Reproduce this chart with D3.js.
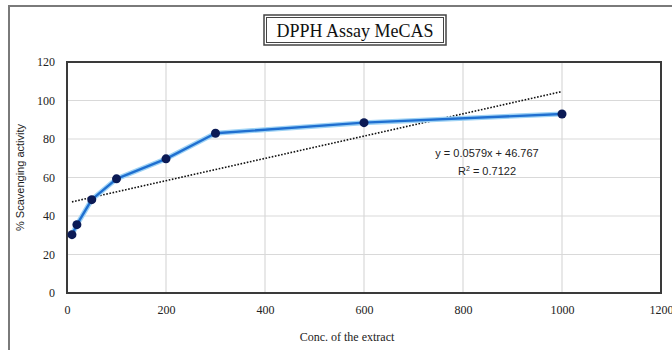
<!DOCTYPE html>
<html>
<head>
<meta charset="utf-8">
<script src="https://cdn.jsdelivr.net/npm/d3@7"></script>
<style>
  body { margin: 0; background: #fff; }
  svg { display: block; }
</style>
</head>
<body>
<div class="container"></div>
<script>
const width = 672;
const height = 350;

// data
const conc = [10, 20, 50, 100, 200, 300, 600, 1000];
const scavenging = [30.3, 35.5, 48.5, 59.3, 69.7, 83, 88.5, 93];
const xTicks = [0, 200, 400, 600, 800, 1000, 1200];
const yTicks = [0, 20, 40, 60, 80, 100, 120];
const slope = 0.0579;
const intercept = 46.767;
const rSquared = '0.7122';

const margin = { top: 62, right: 11, bottom: 57, left: 67 };

const x = d3.scaleLinear().domain([0, 1200]).range([margin.left, width - margin.right]);
const y = d3.scaleLinear().domain([0, 120]).range([height - margin.bottom, margin.top]);

const svg = d3.select('.container')
  .append('svg')
  .attr('width', width)
  .attr('height', height);

// outer chart frame (cut off at right / bottom)
svg.append('rect')
  .attr('x', 9)
  .attr('y', 6)
  .attr('width', width + 20)
  .attr('height', height + 20)
  .attr('fill', 'none')
  .attr('stroke', '#7a7a7a')
  .attr('stroke-width', 2);

// gridlines
svg.append('g')
  .selectAll('line.h')
  .data(yTicks)
  .enter()
  .append('line')
  .attr('x1', x(0))
  .attr('x2', x(1200))
  .attr('y1', d => y(d))
  .attr('y2', d => y(d))
  .attr('stroke', '#d9d9d9')
  .attr('stroke-width', 1.2);

svg.append('g')
  .selectAll('line.v')
  .data(xTicks)
  .enter()
  .append('line')
  .attr('x1', d => x(d))
  .attr('x2', d => x(d))
  .attr('y1', y(0))
  .attr('y2', y(120))
  .attr('stroke', '#d9d9d9')
  .attr('stroke-width', 1.2);

// plot border
svg.append('rect')
  .attr('x', x(0))
  .attr('y', y(120))
  .attr('width', x(1200) - x(0))
  .attr('height', y(0) - y(120))
  .attr('fill', 'none')
  .attr('stroke', '#3a3a3a')
  .attr('stroke-width', 2);

// axes (labels only)
const xAxis = svg.append('g')
  .attr('transform', `translate(0, ${y(0) + 8})`)
  .call(d3.axisBottom(x).tickValues(xTicks).tickFormat(d3.format('d')).tickSize(0).tickPadding(4));
xAxis.select('.domain').remove();
xAxis.selectAll('text')
  .attr('font-family', '"Liberation Serif", "Times New Roman", serif')
  .attr('font-size', 12)
  .attr('fill', '#222');

const yAxis = svg.append('g')
  .attr('transform', `translate(${x(0) - 10}, 0)`)
  .call(d3.axisLeft(y).tickValues(yTicks).tickFormat(d3.format('d')).tickSize(0).tickPadding(2));
yAxis.select('.domain').remove();
yAxis.selectAll('text')
  .attr('font-family', '"Liberation Serif", "Times New Roman", serif')
  .attr('font-size', 12)
  .attr('fill', '#222');

// trendline
const trend = d3.extent(conc).map(c => [c, slope * c + intercept]);
svg.append('path')
  .datum(trend)
  .attr('d', d3.line().x(d => x(d[0])).y(d => y(d[1])))
  .attr('fill', 'none')
  .attr('stroke', '#111')
  .attr('stroke-width', 1.6)
  .attr('stroke-dasharray', '1.6,1.6');

// data line
const pts = conc.map((c, i) => [c, scavenging[i]]);
const line = d3.line().x(d => x(d[0])).y(d => y(d[1]));

svg.append('path')
  .datum(pts)
  .attr('d', line)
  .attr('fill', 'none')
  .attr('stroke', '#9fd3f5')
  .attr('stroke-width', 5)
  .attr('stroke-linejoin', 'round');

svg.append('path')
  .datum(pts)
  .attr('d', line)
  .attr('fill', 'none')
  .attr('stroke', '#1f6fd0')
  .attr('stroke-width', 2.4)
  .attr('stroke-linejoin', 'round');

svg.append('g')
  .selectAll('circle')
  .data(pts)
  .enter()
  .append('circle')
  .attr('cx', d => x(d[0]))
  .attr('cy', d => y(d[1]))
  .attr('r', 4.5)
  .attr('fill', '#0b1a55');

// equation label
const eq = svg.append('text')
  .attr('font-family', '"Liberation Sans", Arial, sans-serif')
  .attr('font-size', 11)
  .attr('fill', '#222')
  .attr('text-anchor', 'middle');
eq.append('tspan')
  .attr('x', 487)
  .attr('y', 157)
  .text(`y = ${slope}x + ${intercept}`);
const r2 = eq.append('tspan')
  .attr('x', 487)
  .attr('y', 175);
r2.append('tspan').text('R');
r2.append('tspan').attr('dy', -4).attr('font-size', 7).text('2');
r2.append('tspan').attr('dy', 4).text(` = ${rSquared}`);

// title box
const title = svg.append('g');
title.append('rect')
  .attr('x', 264)
  .attr('y', 15)
  .attr('width', 182)
  .attr('height', 30)
  .attr('fill', '#fff')
  .attr('stroke', '#444')
  .attr('stroke-width', 1.5);
title.append('rect')
  .attr('x', 266.5)
  .attr('y', 17.5)
  .attr('width', 177)
  .attr('height', 25)
  .attr('fill', 'none')
  .attr('stroke', '#444')
  .attr('stroke-width', 1);
title.append('text')
  .attr('x', 355)
  .attr('y', 37)
  .attr('text-anchor', 'middle')
  .attr('font-family', '"Liberation Serif", "Times New Roman", serif')
  .attr('font-size', 18)
  .attr('fill', '#111')
  .text('DPPH Assay MeCAS');

// axis titles
svg.append('text')
  .attr('x', 347)
  .attr('y', 341)
  .attr('text-anchor', 'middle')
  .attr('font-family', '"Liberation Serif", "Times New Roman", serif')
  .attr('font-size', 12)
  .attr('fill', '#222')
  .text('Conc. of the extract');

svg.append('text')
  .attr('transform', `translate(24, ${(y(0) + y(120)) / 2}) rotate(-90)`)
  .attr('text-anchor', 'middle')
  .attr('font-family', '"Liberation Sans", Arial, sans-serif')
  .attr('font-size', 11)
  .attr('fill', '#222')
  .text('% Scavenging activity');
</script>
</body>
</html>
